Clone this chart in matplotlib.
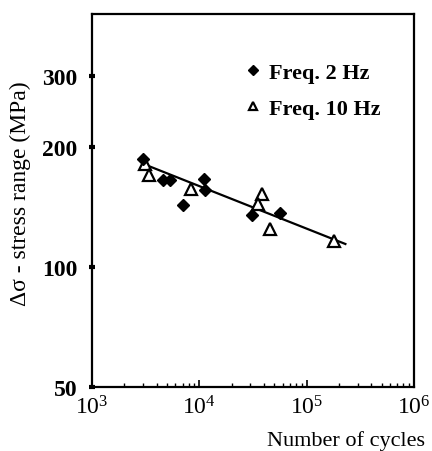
#! /usr/bin/env python3

import matplotlib
matplotlib.use("Agg")
import matplotlib.pyplot as plt
from matplotlib.ticker import LogLocator, NullFormatter, FixedLocator, FixedFormatter

# fatigue data
cycles_2hz = [3000, 4600, 5350, 11100, 11400, 7100, 31300, 57000]
stress_2hz = [186, 165, 165, 166, 156, 143, 135, 136]

cycles_10hz = [3130, 3410, 8400, 38800, 35600, 46100, 178700]
stress_10hz = [181, 170, 157, 152, 144, 124, 116]

# fitted S-N line end points
fit_cycles = [3000, 230000]
fit_stress = [181, 114]

y_ticks = [50, 100, 200, 300]

plt.rcParams['font.family'] = ['Liberation Serif', 'DejaVu Serif']
plt.rcParams['mathtext.fontset'] = 'stix'

fig = plt.figure(figsize=(4.32, 4.52), dpi=100)
ax = fig.add_axes([0.213, 0.142, 0.745, 0.825])

#the fitted line and both data series
ax.plot(fit_cycles, fit_stress, color='black', linewidth=1.6, zorder=1)
ax.plot(cycles_2hz, stress_2hz, linestyle='none', marker='D', markersize=6,
        color='black', label='Freq. 2 Hz', zorder=3)
ax.plot(cycles_10hz, stress_10hz, linestyle='none', marker='^', markersize=8,
        markerfacecolor='white', markeredgecolor='black', markeredgewidth=1.6,
        label='Freq. 10 Hz', zorder=2)

ax.set_xscale('log')
ax.set_yscale('log')
ax.set_xlim(1e3, 1e6)
ax.set_ylim(50, 430)

#y axis ticks: only the labelled values
ax.yaxis.set_major_locator(FixedLocator(y_ticks))
ax.yaxis.set_major_formatter(FixedFormatter([str(v) for v in y_ticks]))
ax.yaxis.set_minor_locator(FixedLocator([]))
ax.tick_params(axis='y', which='major', direction='inout', length=5, width=3,
               labelsize=17, pad=8)
for lab in ax.get_yticklabels():
    lab.set_fontweight('bold')

#x axis ticks: decades plus small minor ticks
ax.xaxis.set_major_locator(LogLocator(base=10, numticks=10))
ax.xaxis.set_minor_locator(LogLocator(base=10, subs=range(2, 10), numticks=20))
ax.xaxis.set_minor_formatter(NullFormatter())
ax.tick_params(axis='x', which='major', direction='in', length=5, width=1.2,
               labelsize=17, pad=6)
ax.tick_params(axis='x', which='minor', direction='in', length=3, width=1.0)

for side in ['left', 'bottom', 'right', 'top']:
    ax.spines[side].set_linewidth(1.6)

ax.set_ylabel('Δσ - stress range (MPa)', fontsize=17)
ax.yaxis.set_label_coords(-0.19, 0.52)
ax.set_xlabel('Number of cycles', fontsize=16, loc='right')
ax.xaxis.set_label_coords(1.035, -0.115)

ax.legend(loc='upper left', bbox_to_anchor=(0.445, 0.9), frameon=False,
          handlelength=0.6, handletextpad=0.4, labelspacing=0.7,
          borderpad=0, markerscale=0.8, prop={'size': 16, 'weight': 'bold'})

plt.savefig('out.png', dpi=100)
